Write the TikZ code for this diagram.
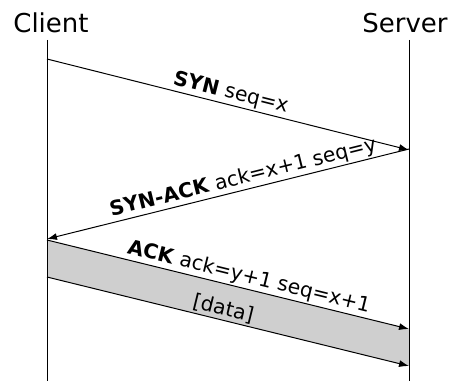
\documentclass[tikz,border=0pt]{standalone}
\usepackage{fontspec}
\setmainfont{DejaVu Sans}
\usetikzlibrary{arrows.meta}
\begin{document}
\begin{tikzpicture}[x=1pt,y=1pt,
  msg/.style={draw=black, line width=1pt, -{Latex[length=10pt,width=7pt]}},
  lbl/.style={sloped, above, inner sep=1.5pt, font=\fontsize{20.3}{24}\selectfont},
  title/.style={anchor=base, font=\fontsize{26}{30}\selectfont},
  life/.style={draw=black, line width=1pt},
  band/.style={fill=black!19}]
\useasboundingbox (0,0) rectangle (454,381);
\node[title] (client) at (51,348) {Client};
\node[title] (server) at (405,348) {Server};
\coordinate (ctop) at (47,341);
\coordinate (cbot) at (47,0);
\coordinate (stop) at (409,341);
\coordinate (sbot) at (409,0);
\coordinate (c1) at (47,322);
\coordinate (s1) at (409,231);
\coordinate (s2) at (409,232);
\coordinate (c2) at (47,142);
\coordinate (c3) at (47,141);
\coordinate (s3) at (409,52);
\coordinate (c4) at (47,104);
\coordinate (s4) at (409,15);
\path[band] (c3) -- (s3) -- (s4) -- (c4) -- cycle;
\draw[life] (ctop) -- (cbot);
\draw[life] (stop) -- (sbot);
\draw[msg] (c1) -- node[lbl, pos=0.5] (synl) {\textbf{SYN} seq=x} (s1);
\draw[msg] (s2) -- node[lbl, pos=0.45] (synackl) {\textbf{SYN-ACK} ack=x+1 seq=y} (c2);
\draw[msg] (c3) -- node[lbl, pos=0.55] (ackl) {\textbf{ACK} ack=y+1 seq=x+1} (s3);
\draw[msg] (c4) -- node[lbl, pos=0.48] (datal) {[data]} (s4);
\end{tikzpicture}
\end{document}
